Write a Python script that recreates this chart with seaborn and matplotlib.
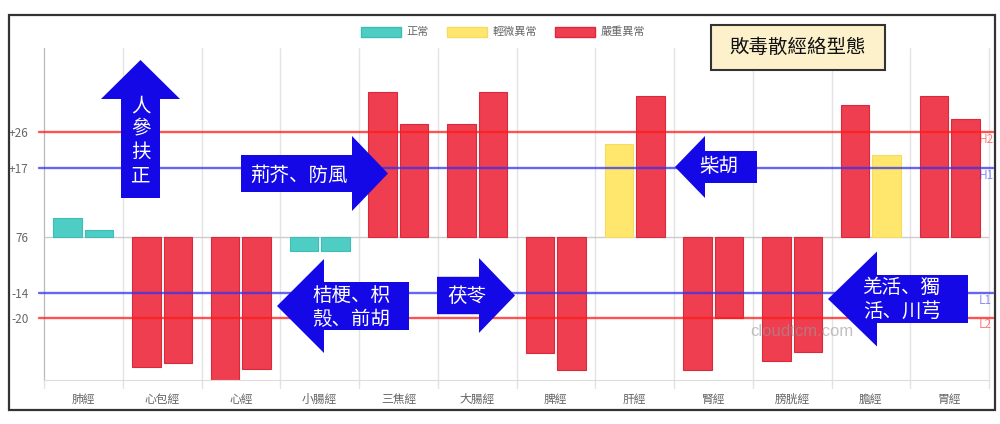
import pandas as pd
import matplotlib.pyplot as plt
import seaborn as sns
from matplotlib.patches import Patch, Polygon, Rectangle

# 經絡 data (deviation from mean 76)
categories = ['肺經', '心包經', '心經', '小腸經', '三焦經', '大腸經',
              '脾經', '肝經', '腎經', '膀胱經', '膽經', '胃經']
left_values = [4.7, -32.2, -35.5, -3.5, 36, 28, -28.9, 23, -33, -30.7, 32.7, 35]
right_values = [1.7, -31.4, -32.8, -3.5, 28, 36, -33, 35, -20, -28.5, 20.4, 29.4]
left_status = ['正常', '嚴重異常', '嚴重異常', '正常', '嚴重異常', '嚴重異常',
               '嚴重異常', '輕微異常', '嚴重異常', '嚴重異常', '嚴重異常', '嚴重異常']
right_status = ['正常', '嚴重異常', '嚴重異常', '正常', '嚴重異常', '嚴重異常',
                '嚴重異常', '嚴重異常', '嚴重異常', '嚴重異常', '輕微異常', '嚴重異常']
status_names = ['正常', '輕微異常', '嚴重異常']
status_colors = {'正常': '#4ECDC4', '輕微異常': '#FFE66D', '嚴重異常': '#EF3E50'}
status_edges = {'正常': '#3dbdb4', '輕微異常': '#f5dc60', '嚴重異常': '#d92a3c'}

ref_levels = [26, 17, -14, -20]
ref_names = ['H2', 'H1', 'L1', 'L2']
ref_colors = ['#ff1a1a', '#3333ee', '#3333ee', '#ff1a1a']
ytick_values = [26, 17, 0, -14, -20]
ytick_labels = ['+26', '+17', '76', '-14', '-20']

df = pd.DataFrame({
    '經絡': categories * 2,
    'value': left_values + right_values,
    'side': ['A'] * len(categories) + ['B'] * len(categories),
})

sns.set_style('white')
plt.rcParams['font.family'] = ['Noto Sans CJK SC', 'DejaVu Sans']

W, H = 1000, 424


def fx(px):
    return px / W


def fy(py):
    return 1 - py / H


fig = plt.figure(figsize=(10, 4.24), dpi=100)
ax = fig.add_axes([fx(44), fy(380), (989 - 44) / W, (380 - 48) / H])

sns.barplot(data=df, x='經絡', y='value', hue='side', order=categories,
            hue_order=['A', 'B'], width=0.8, gap=0.1, errorbar=None,
            legend=False, ax=ax)
for container, statuses in zip(ax.containers, [left_status, right_status]):
    for bar, s in zip(container, statuses):
        bar.set_facecolor(status_colors[s])
        bar.set_edgecolor(status_edges[s])
        bar.set_linewidth(0.8)
        bar.set_zorder(2)

ax.set_xlim(-0.5, len(categories) - 0.5)
ax.set_ylim(-35.5, 46.9)

# grid
for i in range(len(categories) + 1):
    ax.axvline(i - 0.5, ymin=-0.024, ymax=1, color='#e3e3e3', lw=1,
               clip_on=False, zorder=0)
ax.axhline(0, color='#cccccc', lw=1, zorder=1)

for lvl, name, col in zip(ref_levels, ref_names, ref_colors):
    ax.axhline(lvl, xmin=-0.005, xmax=1.004, color=col, lw=1.7, alpha=0.75,
               clip_on=False, zorder=3)
    ax.annotate(name, xy=(1.0, lvl), xycoords=('axes fraction', 'data'),
                xytext=(-10, -7), textcoords='offset pixels', ha='left',
                va='center', fontsize=8.5, color=col, alpha=0.55,
                annotation_clip=False)

ax.set_yticks(ytick_values)
ax.set_yticklabels(ytick_labels)
ax.set_xlabel('')
ax.set_ylabel('')
ax.tick_params(axis='y', length=5, color='#cccccc', labelsize=8.5,
               labelcolor='#666666', pad=6)
ax.tick_params(axis='x', length=0, labelsize=8.5, labelcolor='#666666', pad=9)
for side in ['top', 'right']:
    ax.spines[side].set_visible(False)
ax.spines['left'].set_color('#bbbbbb')
ax.spines['bottom'].set_color('#dddddd')

# legend
handles = [Patch(facecolor=status_colors[s], edgecolor=status_edges[s], label=s)
           for s in status_names]
leg = fig.legend(handles=handles, loc='center', bbox_to_anchor=(0.503, fy(32)),
                 ncol=3, frameon=False, fontsize=8, handlelength=3.6,
                 handleheight=1.0, columnspacing=1.6, handletextpad=0.5)
for t in leg.get_texts():
    t.set_color('#666666')

# title box
fig.add_artist(Rectangle((fx(711), fy(70)), (885 - 711) / W, (70 - 25) / H,
                         transform=fig.transFigure, facecolor='#FDF1CB',
                         edgecolor='#333333', lw=1.5))
fig.text(fx(798), fy(47.5), '敗毒散經絡型態', ha='center', va='center',
         fontsize=14, color='#111111')

# watermark
fig.text(fx(802), fy(331), 'cloudtcm.com', ha='center', va='center',
         fontsize=12, color='#999999', alpha=0.6, family='Liberation Sans',
         zorder=1.5)

ARROW = '#1408e6'


def add_poly(pts):
    fig.add_artist(Polygon([(fx(x), fy(y)) for x, y in pts], closed=True,
                           transform=fig.transFigure, facecolor=ARROW,
                           edgecolor='none', zorder=2))


def h_arrow(tail, base, tip, cy, sh, hh):
    add_poly([(tail, cy - sh), (base, cy - sh), (base, cy - hh), (tip, cy),
              (base, cy + hh), (base, cy + sh), (tail, cy + sh)])


def v_arrow(cx, tail, base, tip, sw, hw):
    add_poly([(cx - sw, tail), (cx - sw, base), (cx - hw, base), (cx, tip),
              (cx + hw, base), (cx + sw, base), (cx + sw, tail)])


def arrow_text(x, y, s):
    fig.text(fx(x), fy(y), s, ha='center', va='center', fontsize=14,
             color='white', linespacing=1.15, zorder=3)


v_arrow(140.5, 198, 99, 60, 19.5, 39.5)
arrow_text(140.5, 141, '人\n參\n扶\n正')

h_arrow(241, 352, 388, 173.5, 18.5, 37.5)
arrow_text(299, 175, '荊芥、防風')

h_arrow(757, 705, 675, 167, 16, 31)
arrow_text(719, 167, '柴胡')

h_arrow(409, 324, 277, 306, 24, 47)
arrow_text(351, 307.5, '桔梗、枳\n殼、前胡')

h_arrow(437, 479, 515, 295.5, 18.7, 37.4)
arrow_text(467, 296, '茯苓')

h_arrow(968, 877, 828, 299, 24, 47.5)
arrow_text(902, 299.5, '羌活、獨\n活、川芎')

# outer frame
fig.add_artist(Rectangle((fx(9), fy(410)), (995 - 9) / W, (410 - 15) / H,
                         transform=fig.transFigure, fill=False,
                         edgecolor='#333333', lw=1.6, zorder=5))

fig.savefig('out.png', dpi=100)
